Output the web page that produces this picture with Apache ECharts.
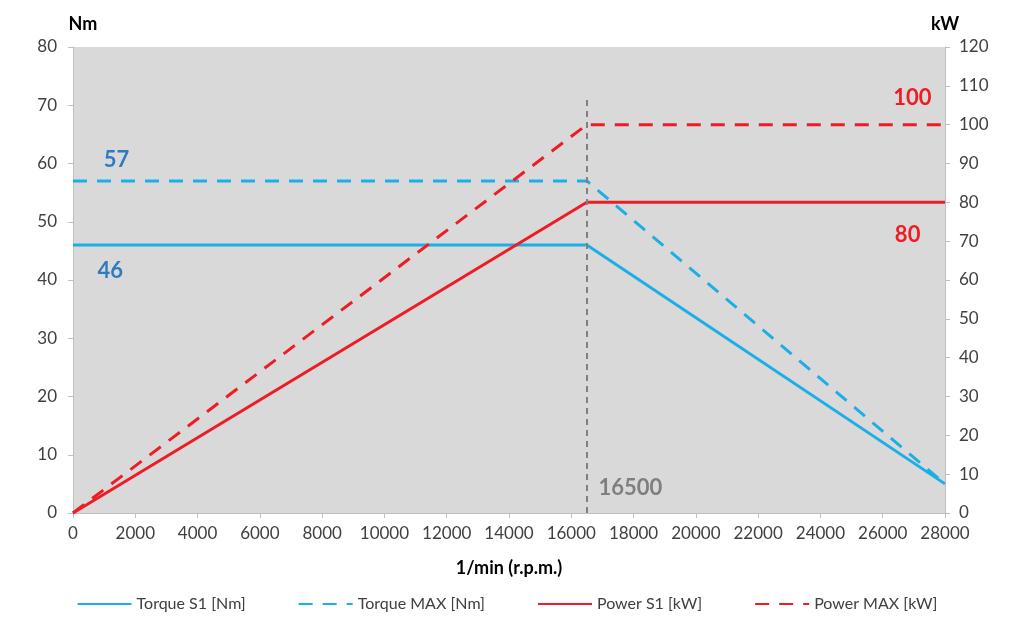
<!DOCTYPE html>
<html><head><meta charset="utf-8">
<script src="https://cdn.jsdelivr.net/npm/echarts@6/dist/echarts.min.js"></script>
<style>html,body{margin:0;padding:0;background:#fff}#c{width:1014px;height:619px}</style>
</head><body><div id="c"></div>
<script>
const torqueS1 = [[0,46],[16500,46],[28000,5]];
const torqueMax = [[0,57],[16500,57],[28000,5]];
const powerS1 = [[0,0],[16500,80],[28000,80]];
const powerMax = [[0,0],[16500,100],[28000,100]];
const cornerSpeed = 16500;
const seriesNames = ['Torque S1 [Nm]','Torque MAX [Nm]','Power S1 [kW]','Power MAX [kW]'];
const xTicks = {min:0,max:28000,interval:2000};
const nmTicks = {min:0,max:80,interval:10};
const kwTicks = {min:0,max:120,interval:10};

const BLUE='#1EAEE6', RED='#EE1C25', LBLUE='#2E7BC0', FONT='Lato, "Open Sans", sans-serif';
const plain = v => String(v);
const axisCommon = {
  axisLine:{show:true,lineStyle:{color:'#BFBFBF',width:1}},
  axisTick:{show:true,lineStyle:{color:'#BFBFBF'},length:5},
  splitLine:{show:false}
};
function lbl(text,color,coord,size){
  return {coord:coord,symbol:'circle',symbolSize:1,itemStyle:{color:'rgba(0,0,0,0)'},
    label:{show:true,formatter:text,color:color,fontSize:size||22,fontWeight:'bold',fontFamily:FONT,position:'inside'}};
}
const chart = echarts.init(document.getElementById('c'));
chart.setOption({
  animation:false,
  grid:{left:73,right:69,top:47,bottom:106,show:true,backgroundColor:'#D9D9D9',borderWidth:0},
  legend:{bottom:2,left:'center',itemWidth:54,itemHeight:10,itemGap:52,
    itemStyle:{opacity:0},
    textStyle:{color:'#404040',fontSize:16,fontFamily:FONT},data:seriesNames},
  xAxis:Object.assign({type:'value',min:xTicks.min,max:xTicks.max,interval:xTicks.interval,
    name:'1/min (r.p.m.)',nameLocation:'middle',nameGap:46,
    nameTextStyle:{color:'#000',fontSize:18,fontWeight:'bold',fontFamily:FONT}},axisCommon,
    {axisLabel:{color:'#404040',fontSize:17,fontFamily:FONT,margin:12,formatter:plain}}),
  yAxis:[
    Object.assign({type:'value',min:nmTicks.min,max:nmTicks.max,interval:nmTicks.interval,position:'left',
      name:'Nm',nameGap:14,nameTextStyle:{color:'#000',fontSize:18,fontWeight:'bold',fontFamily:FONT,align:'center',padding:[0,0,0,20]}},axisCommon,
      {axisLabel:{color:'#404040',fontSize:17,fontFamily:FONT,margin:16,formatter:plain}}),
    Object.assign({type:'value',min:kwTicks.min,max:kwTicks.max,interval:kwTicks.interval,position:'right',
      name:'kW',nameGap:14,nameTextStyle:{color:'#000',fontSize:18,fontWeight:'bold',fontFamily:FONT,align:'center'}},axisCommon,
      {axisLabel:{color:'#404040',fontSize:17,fontFamily:FONT,margin:14,formatter:plain}})
  ],
  series:[
    {name:seriesNames[0],type:'line',data:torqueS1,yAxisIndex:0,symbol:'none',z:3,
      lineStyle:{color:BLUE,width:3},itemStyle:{color:BLUE},
      markLine:{silent:true,symbol:'none',label:{show:false},
        lineStyle:{color:'#808080',type:[6,5],width:2},
        data:[[{coord:[cornerSpeed,0]},{coord:[cornerSpeed,71.5]}]]},
      markPoint:{data:[lbl('46',LBLUE,[1200,41.6]),lbl('16500','#7F7F7F',[17900,4.3])]}},
    {name:seriesNames[1],type:'line',data:torqueMax,yAxisIndex:0,symbol:'none',z:3,
      lineStyle:{color:BLUE,width:3,type:[14,10]},itemStyle:{color:BLUE},
      markPoint:{data:[lbl('57',LBLUE,[1400,60.6])]}},
    {name:seriesNames[2],type:'line',data:powerS1,yAxisIndex:1,symbol:'none',z:4,
      lineStyle:{color:RED,width:3},itemStyle:{color:RED},
      markPoint:{data:[lbl('80',RED,[26800,71.6])]}},
    {name:seriesNames[3],type:'line',data:powerMax,yAxisIndex:1,symbol:'none',z:4,
      lineStyle:{color:RED,width:3,type:[14,10]},itemStyle:{color:RED},
      markPoint:{data:[lbl('100',RED,[26950,106.9])]}}
  ]
});
</script></body></html>
